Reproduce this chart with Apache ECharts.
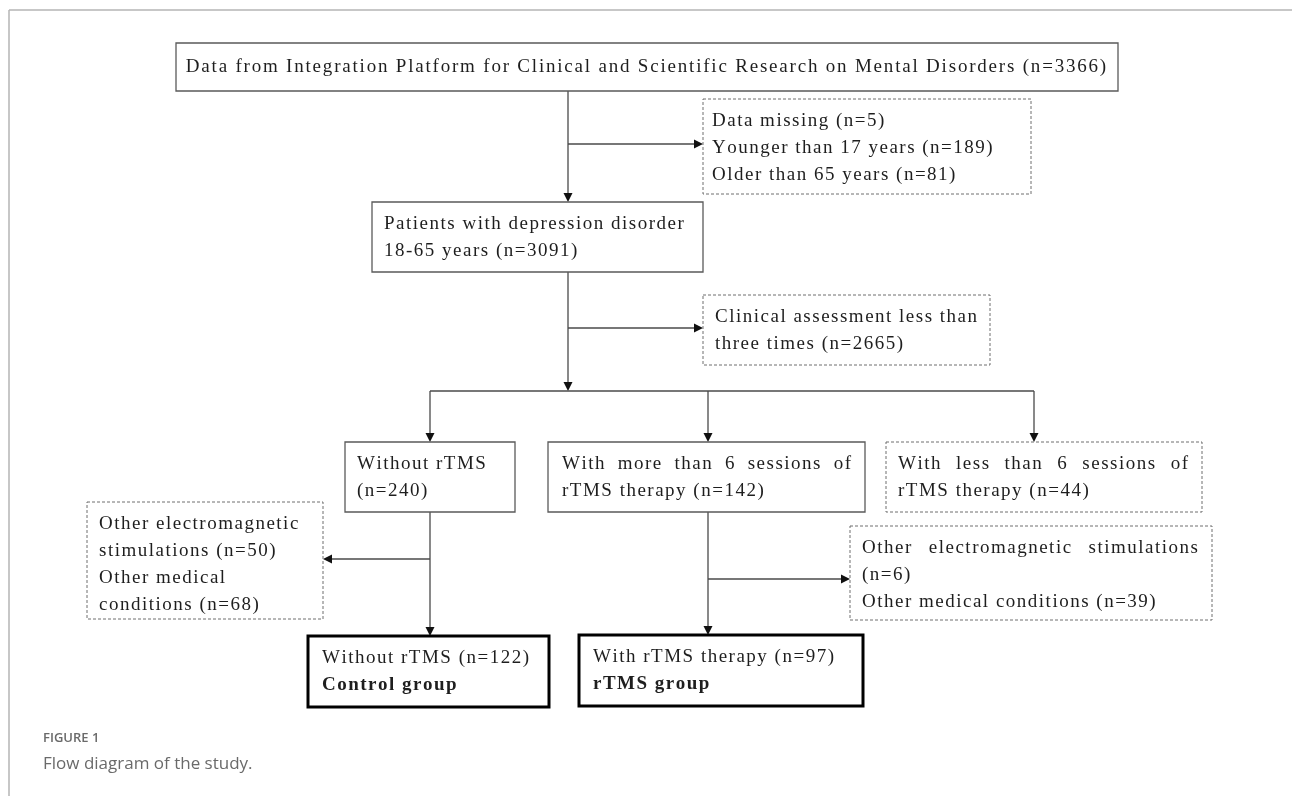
<!DOCTYPE html>
<html>
<head>
<meta charset="utf-8">
<title>Flow diagram of the study</title>
<script src="https://cdn.jsdelivr.net/npm/echarts@6/dist/echarts.min.js"></script>
<style>
html,body{margin:0;padding:0;background:#fff;}
#flow{width:1292px;height:796px;}
</style>
</head>
<body>
<div id="flow"></div>
<script>
// 方框文字，{n} 依次用 boxN 里的人数替换
var boxText = [
    ['Data from Integration Platform for Clinical and Scientific Research on Mental Disorders (n={n})'],
    ['Data missing (n={n})', 'Younger than 17 years (n={n})', 'Older than 65 years (n={n})'],
    ['Patients with depression disorder', '18-65 years (n={n})'],
    ['Clinical assessment less than', 'three times (n={n})'],
    ['Without rTMS', '(n={n})'],
    ['With more than 6 sessions of', 'rTMS therapy (n={n})'],
    ['With less than 6 sessions of', 'rTMS therapy (n={n})'],
    ['Other electromagnetic', 'stimulations (n={n})', 'Other medical', 'conditions (n={n})'],
    ['Other electromagnetic stimulations', '(n={n})', 'Other medical conditions (n={n})'],
    ['Without rTMS (n={n})', 'Control group'],
    ['With rTMS therapy (n={n})', 'rTMS group']
];
// 各框人数
var boxN = [[3366], [5, 189, 81], [3091], [2665], [240], [142], [44], [50, 68], [6, 39], [122], [97]];

// 版面：框的位置 [x, y, 宽, 高]（像素坐标）
var boxRect = [
    [176, 43, 942, 48],
    [703, 99, 328, 95],
    [372, 202, 331, 70],
    [703, 295, 287, 70],
    [345, 442, 170, 70],
    [548, 442, 317, 70],
    [886, 442, 316, 70],
    [87, 502, 236, 117],
    [850, 526, 362, 94],
    [308, 636, 241, 71],
    [579, 635, 284, 71]
];
var boxKind = ['solid', 'dashed', 'solid', 'dashed', 'solid', 'solid', 'dashed', 'dashed', 'dashed', 'final', 'final'];
var boxJustify = [-1, -1, -1, -1, -1, 0, 0, -1, 0, -1, -1];  // 两端对齐的行
var boxBold = [-1, -1, -1, -1, -1, -1, -1, -1, -1, 1, 1];     // 加粗的行
var boxPad = [12, 9, 12, 12, 12, 14, 12, 12, 12, 14, 14];      // 左边距

// 连接线 [x1, y1, x2, y2, 是否带箭头]
var links = [
    [568, 91, 568, 202, 1],
    [568, 144, 703, 144, 1],
    [568, 272, 568, 391, 1],
    [568, 328, 703, 328, 1],
    [430, 391, 1034, 391, 0],
    [430, 391, 430, 442, 1],
    [708, 391, 708, 442, 1],
    [1034, 391, 1034, 442, 1],
    [430, 512, 430, 636, 1],
    [430, 559, 323, 559, 1],
    [708, 512, 708, 635, 1],
    [708, 579, 850, 579, 1]
];

var FONT_SIZE = 19;
var LINE_STEP = 27;
var measureCtx = document.createElement('canvas').getContext('2d');

function fontOf(bold) {
    return (bold ? 'bold ' : '') + FONT_SIZE + 'px "Liberation Serif", "Times New Roman", serif';
}
function charW(ch, font) {
    measureCtx.font = font;
    return measureCtx.measureText(ch).width;
}
function wordW(word, font, ls) {
    var w = 0;
    for (var i = 0; i < word.length; i++) w += charW(word[i], font);
    return w + ls * Math.max(word.length - 1, 0);
}
function fillN(lines, nums) {
    var k = 0;
    return lines.map(function (s) {
        return s.replace(/\{n\}/g, function () { return nums[k++]; });
    });
}

// 逐字排版（原图字距较宽）
function layoutLine(children, text, x0, xEnd, y, font, mode, ls) {
    var words = text.split(' ');
    var gap = charW(' ', font) + 2 * ls;
    var widths = words.map(function (w) { return wordW(w, font, ls); });
    var sumW = widths.reduce(function (a, b) { return a + b; }, 0);
    var total = sumW + gap * (words.length - 1);
    var x = x0;
    if (mode === 'center') {
        x = x0 + (xEnd - x0 - total) / 2;
    } else if (mode === 'justify' && words.length > 1) {
        gap = (xEnd - x0 - sumW) / (words.length - 1);
    }
    words.forEach(function (word, wi) {
        for (var i = 0; i < word.length; i++) {
            children.push({
                type: 'text',
                style: {
                    text: word[i], x: x, y: y, font: font, fill: '#1e1e1e',
                    align: 'left', verticalAlign: 'middle'
                }
            });
            x += charW(word[i], font) + ls;
        }
        x += gap - ls;
    });
}

function renderBox(params, api) {
    var i = params.dataIndex;
    var p0 = api.coord([api.value(0), api.value(1)]);
    var p1 = api.coord([api.value(0) + api.value(2), api.value(1) + api.value(3)]);
    var x = Math.min(p0[0], p1[0]), y = Math.min(p0[1], p1[1]);
    var w = Math.abs(p1[0] - p0[0]), h = Math.abs(p1[1] - p0[1]);
    var kind = boxKind[i];
    var children = [{
        type: 'rect',
        shape: { x: x, y: y, width: w, height: h },
        style: {
            fill: '#fff',
            stroke: kind === 'final' ? '#000' : (kind === 'dashed' ? '#6e6e6e' : '#5a5a5a'),
            lineWidth: kind === 'final' ? 3 : (kind === 'dashed' ? 1 : 1.3),
            lineDash: kind === 'dashed' ? [3, 2] : null
        }
    }];
    var lines = fillN(boxText[i], boxN[i]);
    var ls = i === 0 ? 1.8 : 1.5;
    lines.forEach(function (s, li) {
        var font = fontOf(boxBold[i] === li);
        var ty = i === 0 ? y + h / 2 : y + 22 + li * LINE_STEP;
        var mode = i === 0 ? 'center' : (boxJustify[i] === li ? 'justify' : 'left');
        layoutLine(children, s, x + boxPad[i], x + w - 14, ty, font, mode, ls);
    });
    return { type: 'group', children: children };
}

function renderLink(params, api) {
    var a = api.coord([api.value(0), api.value(1)]);
    var b = api.coord([api.value(2), api.value(3)]);
    var hasArrow = api.value(4) === 1;
    var dx = b[0] - a[0], dy = b[1] - a[1];
    var len = Math.sqrt(dx * dx + dy * dy);
    var ux = dx / len, uy = dy / len;
    var L = 9, hw = 4.5;
    var end = hasArrow ? [b[0] - ux * L, b[1] - uy * L] : b;
    var children = [{
        type: 'line',
        shape: { x1: a[0], y1: a[1], x2: end[0], y2: end[1] },
        style: { stroke: '#4a4a4a', lineWidth: 1.3 }
    }];
    if (hasArrow) {
        children.push({
            type: 'polygon',
            shape: { points: [b, [end[0] - uy * hw, end[1] + ux * hw], [end[0] + uy * hw, end[1] - ux * hw]] },
            style: { fill: '#111' }
        });
    }
    return { type: 'group', children: children };
}

var myChart = echarts.init(document.getElementById('flow'));
var option = {
    animation: false,
    backgroundColor: '#fff',
    grid: { left: 0, right: 0, top: 0, bottom: 0 },
    xAxis: { type: 'value', min: 0, max: 1292, show: false },
    yAxis: { type: 'value', min: 0, max: 796, inverse: true, show: false },
    graphic: [
        // 外框（上、左）
        { type: 'line', shape: { x1: 9, y1: 10, x2: 1292, y2: 10 }, style: { stroke: '#b4b4b4', lineWidth: 1.5 } },
        { type: 'line', shape: { x1: 9, y1: 10, x2: 9, y2: 796 }, style: { stroke: '#b4b4b4', lineWidth: 1.5 } },
        // 图注
        { type: 'text', left: 43, top: 732, style: { text: 'FIGURE 1', font: '600 13px "Open Sans", sans-serif', fill: '#6a6a6a' } },
        { type: 'text', left: 43, top: 756, style: { text: 'Flow diagram of the study.', font: '17px "Open Sans", sans-serif', fill: '#6a6a6a' } }
    ],
    series: [{
        name: 'links',
        type: 'custom',
        coordinateSystem: 'cartesian2d',
        clip: false,
        renderItem: renderLink,
        data: links
    }, {
        name: 'boxes',
        type: 'custom',
        coordinateSystem: 'cartesian2d',
        clip: false,
        renderItem: renderBox,
        data: boxRect
    }]
};
myChart.setOption(option);
</script>
</body>
</html>
